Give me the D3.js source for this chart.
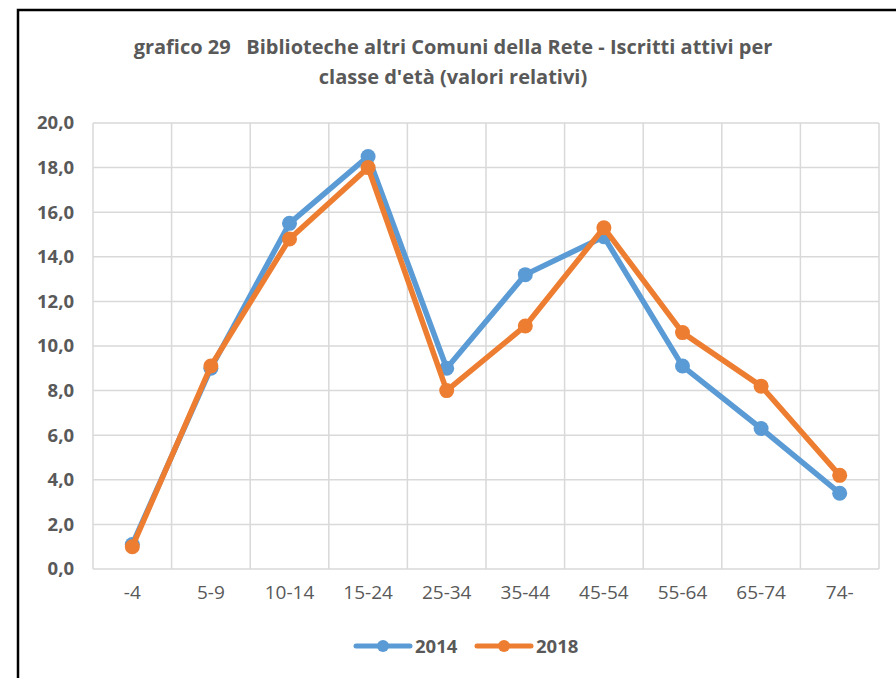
<!DOCTYPE html>
<html>
<head>
<meta charset="utf-8">
<script src="https://cdn.jsdelivr.net/npm/d3@7"></script>
<style>
  body { margin: 0; background: #fff; }
  svg text { font-family: "Open Sans", sans-serif; fill: #595959; }
</style>
</head>
<body>
<div class="container"></div>
<script>
var width = 896;
var height = 678;
var margin = {top: 123, right: 17, bottom: 109, left: 93};

// data
var classi = ["-4", "5-9", "10-14", "15-24", "25-34", "35-44", "45-54", "55-64", "65-74", "74-"];
var val2014 = [1.1, 9.0, 15.5, 18.5, 9.0, 13.2, 14.9, 9.1, 6.3, 3.4];
var val2018 = [1.0, 9.1, 14.8, 18.0, 8.0, 10.9, 15.3, 10.6, 8.2, 4.2];
var yTicks = [0, 2, 4, 6, 8, 10, 12, 14, 16, 18, 20];
var series = [
  {name: "2014", values: val2014, color: "#5b9bd5"},
  {name: "2018", values: val2018, color: "#ed7d31"}
];

var svg = d3.select(".container").append("svg")
  .attr("width", width).attr("height", height);

// frame
svg.append("rect")
  .attr("x", 18).attr("y", 10)
  .attr("width", width + 10).attr("height", height + 10)
  .attr("fill", "none").attr("stroke", "#000").attr("stroke-width", 2.5);

var xScale = d3.scaleBand().domain(classi).range([margin.left, width - margin.right]);
var yScale = d3.scaleLinear().domain([0, 20]).range([height - margin.bottom, margin.top]);

// grid
var grid = svg.append("g");
grid.selectAll(".hgrid").data(yTicks).enter().append("line")
  .attr("x1", margin.left).attr("x2", width - margin.right)
  .attr("y1", d => yScale(d)).attr("y2", d => yScale(d))
  .attr("stroke", "#d9d9d9").attr("stroke-width", 1.5);
var vlines = classi.map(c => xScale(c)).concat([width - margin.right]);
grid.selectAll(".vgrid").data(vlines).enter().append("line")
  .attr("x1", d => d).attr("x2", d => d)
  .attr("y1", margin.top).attr("y2", height - margin.bottom)
  .attr("stroke", "#d9d9d9").attr("stroke-width", 1.5);

// axes
var yAxis = d3.axisLeft(yScale).tickValues(yTicks).tickSize(0).tickPadding(19)
  .tickFormat(d => d3.format(".1f")(d).replace(".", ","));
svg.append("g").attr("transform", "translate(" + margin.left + ",0)").call(yAxis)
  .call(g => g.select(".domain").remove())
  .selectAll("text").style("font-size", "18.5px").style("font-weight", "bold").attr("fill", "#595959");

var xAxis = d3.axisBottom(xScale).tickSize(0).tickPadding(17);
svg.append("g").attr("transform", "translate(0," + (height - margin.bottom) + ")").call(xAxis)
  .call(g => g.select(".domain").remove())
  .selectAll("text").style("font-size", "19px").attr("fill", "#595959");

// lines
var line = d3.line()
  .x((d, i) => xScale(classi[i]) + xScale.bandwidth() / 2)
  .y(d => yScale(d));

series.forEach(function(s) {
  svg.append("path").datum(s.values)
    .attr("d", line).attr("fill", "none")
    .attr("stroke", s.color).attr("stroke-width", 5.5)
    .attr("stroke-linejoin", "round");
  svg.selectAll(".pt" + s.name).data(s.values).enter().append("circle")
    .attr("cx", (d, i) => xScale(classi[i]) + xScale.bandwidth() / 2)
    .attr("cy", d => yScale(d))
    .attr("r", 7.5).attr("fill", s.color);
});

// title
var title = svg.append("text").attr("x", 453).attr("text-anchor", "middle")
  .style("font-size", "20px").style("font-weight", "bold").style("white-space", "pre");
title.append("tspan").attr("x", 453).attr("y", 54)
  .text("grafico 29   Biblioteche altri Comuni della Rete - Iscritti attivi per");
title.append("tspan").attr("x", 453).attr("y", 84)
  .text("classe d'età (valori relativi)");

// legend
var legend = svg.selectAll(".legend").data(series).enter().append("g")
  .attr("transform", (d, i) => "translate(" + (356 + i * 121) + ",646)");
legend.append("line").attr("x1", 0).attr("x2", 54)
  .attr("stroke", d => d.color).attr("stroke-width", 5).attr("stroke-linecap", "round");
legend.append("circle").attr("cx", 27).attr("r", 6).attr("fill", d => d.color);
legend.append("text").attr("x", 59).attr("y", 7)
  .style("font-size", "18.5px").style("font-weight", "bold")
  .text(d => d.name);
</script>
</body>
</html>
